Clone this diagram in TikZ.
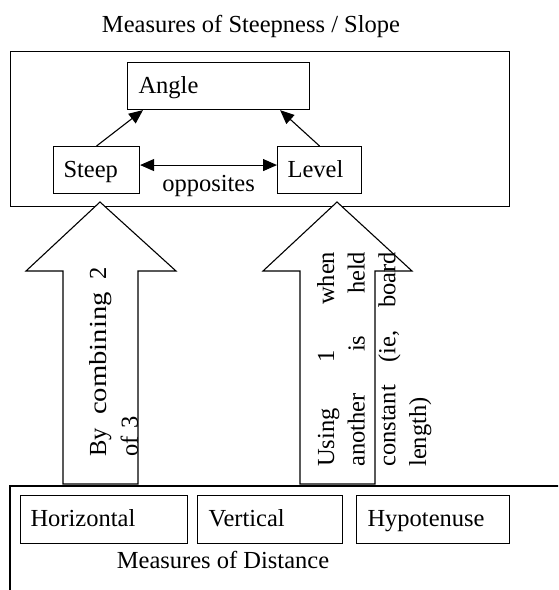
\documentclass[tikz,border=0pt]{standalone}
\usepackage{graphicx}
\usepackage{fontspec}
\setmainfont{Liberation Serif}
\usetikzlibrary{arrows.meta}
\begin{document}
\begin{tikzpicture}[x=1pt,y=-1pt,
  font=\fontsize{24.5}{29}\selectfont,
  frame/.style={draw, line width=1.1pt},
  box/.style={draw, line width=1.1pt, inner ysep=0pt, anchor=north west, align=left,
              minimum height=47pt, text height=18pt, text depth=4pt},
  bigarrow/.style={draw, fill=white, line width=1.1pt, line join=miter},
  tip/.style={-{Triangle[length=14pt,width=12pt]}, line width=1.1pt},
  dtip/.style={{Triangle[length=14pt,width=12pt]}-{Triangle[length=14pt,width=12pt]}, line width=1.1pt},
  vtext/.style={rotate=90, anchor=base west, align=left, inner sep=0pt}]
\useasboundingbox (0,0) rectangle (558,590);
\clip (0,0) rectangle (558,590);

% title and top frame
\node[anchor=base] (title) at (251,32) {Measures of Steepness / Slope};
\node[frame, anchor=north west, inner sep=0pt, minimum width=499pt, minimum height=155pt] (steepness) at (10,51) {};

% bottom frame (cut off by the page)
\draw[frame] (10,640) -- (10,486) -- (640,486);

% big arrows
\draw[bigarrow] (100,202) -- (176,271) -- (138,271) -- (138,484) -- (63,484) -- (63,271) -- (26,271) -- cycle;
\draw[bigarrow] (337,202) -- (412,271) -- (375,271) -- (375,484) -- (300,484) -- (300,271) -- (263,271) -- cycle;

% boxes in the top frame
\node[box, inner xsep=11pt, text width=160pt] (Angle) at (127,62) {Angle};
\node[box, inner xsep=10pt, text width=66pt] (Steep) at (53,146) {Steep};
\node[box, inner xsep=10pt, text width=64pt] (Level) at (277,146) {Level};

\draw[tip] (Steep.north) -- ([xshift=16pt]Angle.south west);
\draw[tip] (Level.north) -- ([xshift=-30pt]Angle.south east);
\draw[dtip] ([yshift=5pt]Steep.east) -- ([yshift=5pt]Level.west)
  node[midway, anchor=base, yshift=-26pt] (opp) {opposites};

% texts in the big arrows
\node[vtext, text width=190pt, font=\fontsize{24.5}{32}\selectfont] (combine) at (106,457)
  {\makebox[190pt][s]{By\hfill\scalebox{1.17}[1]{combining}\hfill 2}\\of 3};
\node[vtext, text width=215pt, font=\fontsize{24.5}{30.7}\selectfont] (using) at (334,467)
  {\makebox[215pt][s]{Using\hfill 1\hfill when}\\\makebox[215pt][s]{another\hfill is\hfill held}\\\makebox[215pt][s]{constant\hfill (ie,\hfill board}\\length)};

% boxes in the bottom frame
\node[box, minimum height=48pt, inner xsep=10pt, text width=147pt] (Horizontal) at (20,495) {Horizontal};
\node[box, minimum height=48pt, inner xsep=11pt, text width=123pt] (Vertical) at (197,495) {Vertical};
\node[box, minimum height=48pt, inner xsep=11pt, text width=131pt] (Hypotenuse) at (356,495) {Hypotenuse};
\node[anchor=base] (distance) at (223,568) {Measures of Distance};
\end{tikzpicture}
\end{document}
